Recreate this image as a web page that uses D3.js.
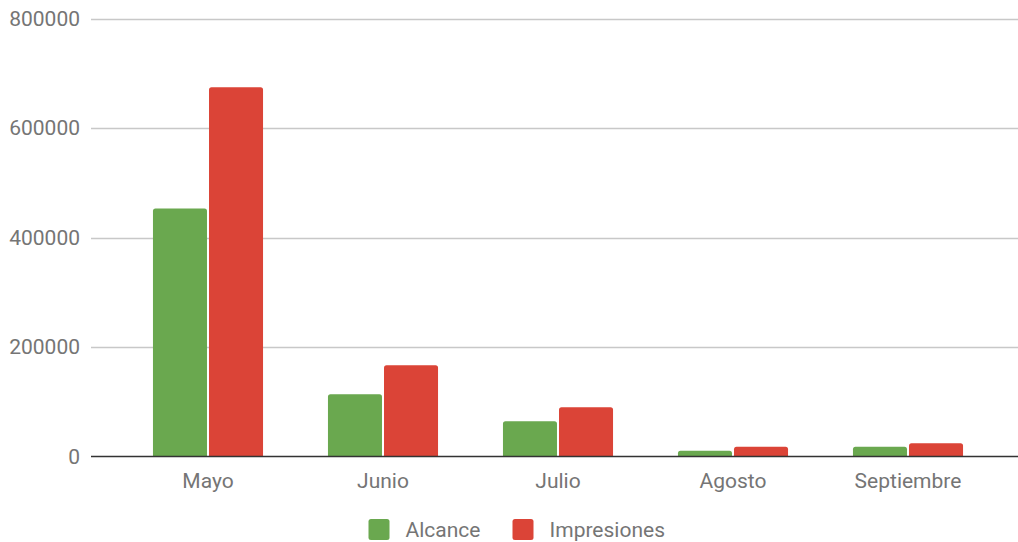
<!DOCTYPE html>
<html>
<head>
<meta charset="utf-8">
<script src="https://cdn.jsdelivr.net/npm/d3@7"></script>
<style>
  body { margin: 0; background: #fff; }
  svg { display: block; font-family: Roboto, sans-serif; }
</style>
</head>
<body>
<svg id="chart" width="1018" height="542"></svg>
<script>
// chart data
const months = ["Mayo", "Junio", "Julio", "Agosto", "Septiembre"];
const seriesNames = ["Alcance", "Impresiones"];
const alcance = [453000, 113600, 64300, 10600, 17900];
const impresiones = [674300, 166600, 89900, 17900, 24100];
const yTicks = [0, 200000, 400000, 600000, 800000];
const colors = ["#6aa84f", "#db4437"];

const svg = d3.select("#chart");
const gridLeft = 91, gridRight = 1018;
const plotTop = 18.5, plotBottom = 456.5;
const fontSize = 21;

const y = d3.scaleLinear().domain([0, 800000]).range([plotBottom, plotTop]);
const x = d3.scaleBand().domain(months).range([120.5, 995.5])
  .paddingInner(0.371).paddingOuter(0.1855);
const xs = d3.scaleBand().domain(seriesNames).range([0, x.bandwidth()]).paddingInner(0.036);

// gridlines + y labels
const yAxis = svg.append("g");
yAxis.selectAll("line").data(yTicks.filter(d => d > 0)).enter().append("line")
  .attr("x1", gridLeft).attr("x2", gridRight)
  .attr("y1", d => Math.round(y(d)) + 0.5).attr("y2", d => Math.round(y(d)) + 0.5)
  .attr("stroke", "#c8c8c8").attr("stroke-width", 1.3);
yAxis.selectAll("text").data(yTicks).enter().append("text")
  .attr("x", 80).attr("y", d => y(d)).attr("dy", "0.35em")
  .attr("text-anchor", "end").attr("fill", "#757575").attr("font-size", fontSize)
  .text(d => d);

// bars, top corners rounded
const rows = months.map((m, i) => ({ month: m, values: [alcance[i], impresiones[i]] }));
function topRounded(x0, y0, w, h, r) {
  r = Math.min(r, h, w / 2);
  return `M${x0},${y0 + h}V${y0 + r}Q${x0},${y0} ${x0 + r},${y0}H${x0 + w - r}Q${x0 + w},${y0} ${x0 + w},${y0 + r}V${y0 + h}Z`;
}
const groups = svg.append("g").selectAll("g").data(rows).enter().append("g")
  .attr("transform", d => "translate(" + x(d.month) + ",0)");
groups.selectAll("path").data(d => d.values.map((v, j) => ({ name: seriesNames[j], v, j })))
  .enter().append("path")
  .attr("fill", d => colors[d.j])
  .attr("d", d => topRounded(xs(d.name), y(d.v), xs.bandwidth(), plotBottom - y(d.v), 2.5));

// baseline
svg.append("line").attr("x1", gridLeft).attr("x2", gridRight)
  .attr("y1", plotBottom).attr("y2", plotBottom)
  .attr("stroke", "#333333").attr("stroke-width", 1.5);

// x labels
svg.append("g").selectAll("text").data(months).enter().append("text")
  .attr("x", d => x(d) + x.bandwidth() / 2).attr("y", 488)
  .attr("text-anchor", "middle").attr("fill", "#757575").attr("font-size", fontSize)
  .text(d => d);

// legend
const legendX = [368.5, 512.5];
const legend = svg.append("g").selectAll("g").data(seriesNames).enter().append("g")
  .attr("transform", (d, i) => "translate(" + legendX[i] + ",519)");
legend.append("rect").attr("width", 21).attr("height", 21).attr("rx", 2.5)
  .attr("fill", (d, i) => colors[i]);
legend.append("text").attr("x", 37).attr("y", 18)
  .attr("fill", "#757575").attr("font-size", fontSize).text(d => d);
</script>
</body>
</html>
